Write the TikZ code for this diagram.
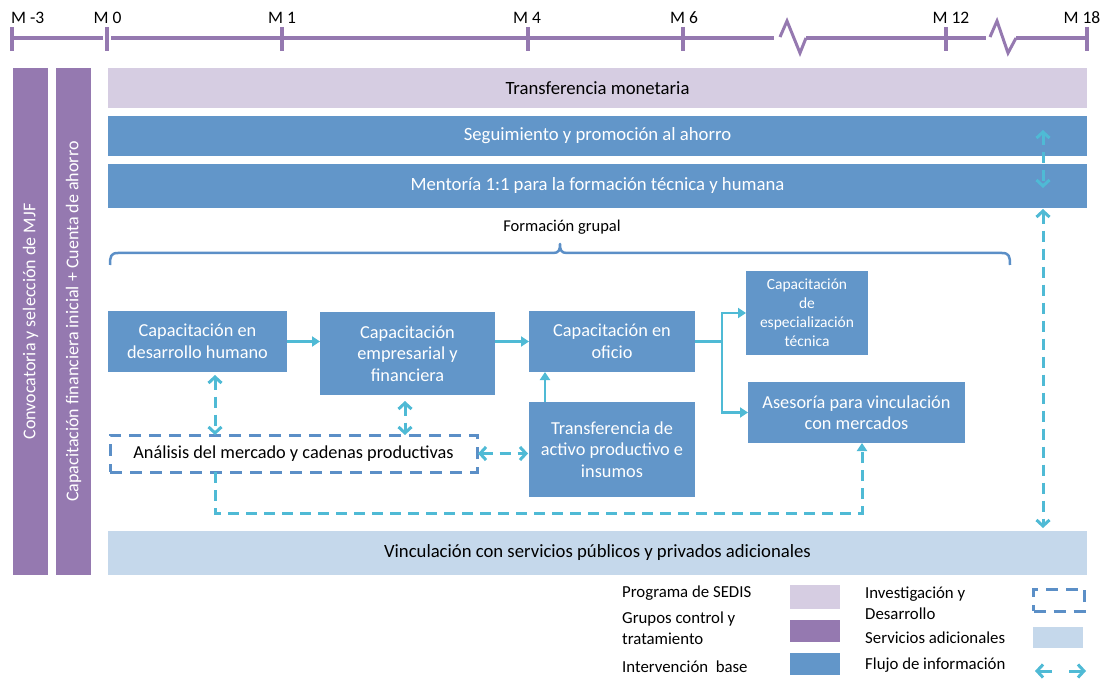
\documentclass[tikz,border=0pt]{standalone}
\usepackage{fontspec}
\setmainfont{Carlito}
\usetikzlibrary{arrows.meta,calc}

\definecolor{cPurple}{RGB}{149,121,176}
\definecolor{cLav}{RGB}{214,205,226}
\definecolor{cBlue}{RGB}{98,150,201}
\definecolor{cLight}{RGB}{197,216,235}
\definecolor{cCyan}{RGB}{79,186,213}
\definecolor{cRD}{RGB}{91,143,199}

\newcommand\fsz[2]{\fontsize{#1}{#2}\selectfont}

\tikzset{
  band/.style={inner sep=0pt, outer sep=0pt, minimum width=979pt, align=center, font=\fsz{18.7}{22}},
  vbar/.style={inner sep=0pt, outer sep=0pt, fill=cPurple, text=white, minimum width=507pt,
               minimum height=35pt, rotate=90, font=\fsz{18}{22}},
  flowbox/.style={inner sep=0pt, outer sep=0pt, fill=cBlue, text=white, align=center,
                  font=\fsz{18.3}{21.5}},
  rdbox/.style={draw=cRD, line width=3pt, dash pattern=on 12pt off 8pt, inner sep=0pt, outer sep=0pt},
  link/.style={draw=cCyan, line width=2.5pt, -{Triangle[length=8pt,width=10pt]}},
  plainlink/.style={draw=cCyan, line width=2.5pt},
  info/.style={draw=cCyan, line width=3pt, dash pattern=on 11pt off 7pt},
  barb/.style={line width=3pt, draw=cCyan, line cap=butt},
  twoway/.style={info, {Straight Barb[length=6pt,width=13pt]}-{Straight Barb[length=6pt,width=13pt]}},
  tick/.style={draw=cPurple, line width=4pt},
  tline/.style={draw=cPurple, line width=4.5pt},
  tbreak/.style={draw=cPurple, line width=3pt, line join=miter},
  tlabel/.style={font=\fsz{17.5}{20}, inner sep=0pt},
  leg/.style={font=\fsz{16.8}{21}, inner sep=0pt, align=left, anchor=west},
  swatch/.style={inner sep=0pt, outer sep=0pt, minimum width=50pt}
}

\begin{document}
\begin{tikzpicture}[x=1pt,y=-1pt]
\useasboundingbox (0,0) rectangle (1104,679);

% ---- time line ----
\draw[tline] (12,38) -- (103,38);
\draw[tline] (111,38) -- (774,38);
\draw[tbreak] (780,37) -- (787,21) -- (800,53) -- (806,38);
\draw[tline] (806,38) -- (986,38);
\draw[tbreak] (990,37) -- (997,21) -- (1008,53) -- (1016,38);
\draw[tline] (1016,38) -- (1087,38);
\foreach \x in {12,107,282,528,683,946,1087}
  \draw[tick] (\x,27) -- (\x,51);

\node[tlabel, anchor=west] (m-3) at (11,17.5) {M -3};
\node[tlabel] (m0) at (107.5,17.5) {M 0};
\node[tlabel] (m1) at (282,17.5) {M 1};
\node[tlabel] (m4) at (527,17.5) {M 4};
\node[tlabel] (m6) at (684,17.5) {M 6};
\node[tlabel] (m12) at (951,17.5) {M 12};
\node[tlabel] (m18) at (1082,17.5) {M 18};

% ---- vertical bars ----
\node[vbar] (conv) at (30.5,321.5) {Convocatoria y selección de MJF};
\node[vbar] (capf) at (73.5,321.5) {Capacitación financiera inicial + Cuenta de ahorro};

% ---- horizontal bands ----
\node[band, fill=cLav, minimum height=40pt] (tm) at (597.5,88) {Transferencia monetaria};
\node[band, fill=cBlue, text=white, minimum height=40pt] (seg) at (597.5,136) {Seguimiento y promoción al ahorro};
\node[band, fill=cBlue, text=white, minimum height=44pt] (men) at (597.5,186) {Mentoría 1:1 para la formación técnica y humana};
\node[band, fill=cLight, minimum height=44pt] (vin) at (597.5,553) {Vinculación con servicios públicos y privados adicionales};

% ---- group training brace ----
\node[font=\fsz{16.5}{19}, inner sep=0pt] (fg) at (562,227) {Formación grupal};
\draw[cRD, line width=2.5pt, line join=round]
  (110,265) .. controls (110,256) and (111,253) .. (118,253) -- (553,253)
  .. controls (559,253) and (560,250) .. (560,244)
  .. controls (560,250) and (561,253) .. (567,253) -- (1002,253)
  .. controls (1009,253) and (1010,256) .. (1010,265);

% ---- flow boxes ----
\node[flowbox, minimum width=179pt, minimum height=61pt] (A) at (197.5,341.5) {Capacitación en\\desarrollo humano};
\node[flowbox, minimum width=175pt, minimum height=83pt] (B) at (407.5,353.5) {Capacitación\\empresarial y\\financiera};
\node[flowbox, minimum width=166pt, minimum height=61pt] (C) at (612,341.5) {Capacitación en\\oficio};
\node[flowbox, minimum width=122pt, minimum height=84pt, font=\fsz{15.5}{19}] (D) at (807,313) {Capacitación\\de\\especialización\\técnica};
\node[flowbox, minimum width=217pt, minimum height=61pt] (E) at (856.5,412.5) {Asesoría para vinculación\\con mercados};
\node[flowbox, minimum width=166pt, minimum height=95pt] (F) at (612,449.5) {Transferencia de\\activo productivo e\\insumos};
\node[rdbox, minimum width=367pt, minimum height=37pt, font=\fsz{18.3}{21.5}] (G) at (293.5,453.5) {Análisis del mercado y cadenas productivas};

% ---- solid links ----
\draw[link] (A.east) -- (A.east -| B.west);
\draw[link] (C.west -| B.east) -- (C.west);
\coordinate (br) at (722,341.5);
\draw[plainlink] (C.east) -- (br);
\draw[link] (br) |- (D.west);
\draw[link] (br) |- (E.west);
\draw[link] ([xshift=16pt]F.north west) -- ([xshift=16pt]C.south west);

% ---- information flow ----
\draw[twoway, shorten <=3pt] ([xshift=17.5pt]A.south) -- ([xshift=17.5pt]A.south |- G.north);
\draw[twoway, shorten <=6pt] ([xshift=-2.5pt]B.south) -- ([xshift=-2.5pt]B.south |- G.north);
\draw[twoway, shorten <=1pt, shorten >=1pt] (G.east) -- (G.east -| F.west);
\coordinate (gl) at ($(G.south)+(-78.5,0)$);
\coordinate (turn) at (215,513);
\coordinate (el) at ($(E.south)+(5.5,0)$);
\draw[info, -{Triangle[length=8pt,width=10pt]}] (gl) -- (turn) -| (el);

\coordinate (rx) at (1043,0);
\draw[twoway] ($(rx |- seg.south)+(0,-26)$) -- ($(rx |- men.north)+(0,24)$);
\draw[twoway, shorten <=1pt, shorten >=3pt] (rx |- men.south) -- (rx |- vin.north);

% ---- legend ----
\node[leg] (l1) at (622,593) {Programa de SEDIS};
\node[leg] (l2) at (622,628.5) {Grupos control y\\tratamiento};
\node[leg] (l3) at (622,667) {Intervención\ \ base};
\node[swatch, fill=cLav, minimum height=24pt] (s1) at (815,596.5) {};
\node[swatch, fill=cPurple, minimum height=22pt] (s2) at (815,631) {};
\node[swatch, fill=cBlue, minimum height=22pt] (s3) at (815,663.5) {};

\node[leg] (l4) at (865,603) {Investigación y\\Desarrollo};
\node[leg] (l5) at (865,638) {Servicios adicionales};
\node[leg] (l6) at (865,665) {Flujo de información};
\node[rdbox, minimum width=51pt, minimum height=22pt] (s4) at (1059,600) {};
\node[swatch, fill=cLight, minimum height=21pt] (s5) at (1058,637.5) {};
\coordinate (fa1) at (1035,671);
\coordinate (fa2) at (1052,671);
\coordinate (fb1) at (1069,671);
\coordinate (fb2) at (1086,671);
\draw[barb, -{Straight Barb[length=6pt,width=13pt]}] (fa2) -- (fa1);
\draw[barb, -{Straight Barb[length=6pt,width=13pt]}] (fb1) -- (fb2);
\end{tikzpicture}
\end{document}
